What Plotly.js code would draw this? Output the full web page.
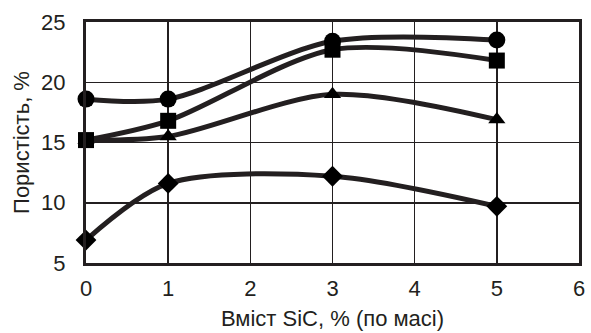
<!DOCTYPE html>
<html><head><meta charset="utf-8">
<script src="https://cdn.plot.ly/plotly-3.0.1.min.js"></script>
<style>html,body{margin:0;padding:0;background:#fff}#c{width:591px;height:333px}</style>
</head><body><div id="c"></div>
<script>
const xVals = [0, 1, 3, 5];
const circleY = [18.6, 18.6, 23.4, 23.5];
const squareY = [15.2, 16.8, 22.7, 21.8];
const triangleY = [15.2, 15.5, 19.0, 16.9];
const diamondY = [6.9, 11.6, 12.2, 9.7];
const xTicks = [0, 1, 2, 3, 4, 5, 6];
const yTicks = [5, 10, 15, 20, 25];

const lineCol = '#231f20';
function tr(y, sym, size) {
  return {x: xVals, y: y, type: 'scatter', mode: 'lines+markers',
    line: {color: lineCol, width: 5, shape: 'spline', smoothing: 0.85},
    marker: {symbol: sym, size: size, color: '#000'}, cliponaxis: false, showlegend: false};
}
const data = [
  tr(diamondY, 'diamond', 16),
  tr(triangleY, 'triangle-up', 15),
  tr(circleY, 'circle', 17),
  tr(squareY, 'square', 16)
];
const layout = {
  width: 591, height: 333,
  margin: {l: 86, r: 12, t: 22, b: 70},
  paper_bgcolor: '#fff', plot_bgcolor: '#fff',
  font: {family: 'Liberation Sans, Arial, sans-serif', color: '#231f20'},
  xaxis: {range: [0, 6], tickvals: xTicks, ticktext: xTicks.map(String), ticks: '',
    showgrid: true, gridcolor: lineCol, gridwidth: 1.5, zeroline: false,
    showline: true, linecolor: lineCol, linewidth: 3, mirror: true,
    tickfont: {size: 22}, ticklabelstandoff: 4,
    title: {text: 'Вміст SiC, % (по масі)', font: {size: 22}, standoff: 11}},
  yaxis: {range: [5, 25], tickvals: yTicks, ticktext: yTicks.map(String), ticks: '',
    showgrid: true, gridcolor: lineCol, gridwidth: 1.5, zeroline: false,
    showline: true, linecolor: lineCol, linewidth: 3, mirror: true,
    tickfont: {size: 22}, ticklabelstandoff: 13,
    title: {text: 'Пористість, %', font: {size: 22}, standoff: 6}}
};
Plotly.newPlot('c', data, layout, {displayModeBar: false, staticPlot: true});
</script></body></html>
